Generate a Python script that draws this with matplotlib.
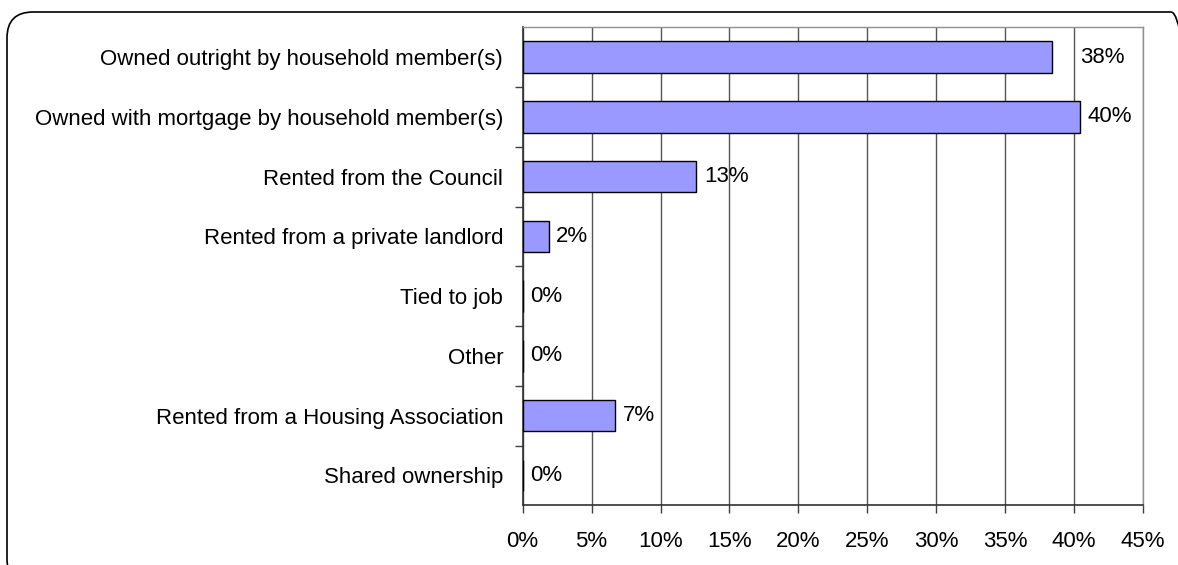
import matplotlib
matplotlib.use("Agg")
import matplotlib.pyplot as plt
from matplotlib.patches import FancyBboxPatch
from matplotlib.transforms import IdentityTransform

plt.rcParams["font.family"] = ["Liberation Sans", "DejaVu Sans"]

# tenure of the household's home (% of respondents)
categorias = ["Owned outright by household member(s)",
              "Owned with mortgage by household member(s)",
              "Rented from the Council",
              "Rented from a private landlord",
              "Tied to job",
              "Other",
              "Rented from a Housing Association",
              "Shared ownership"]
percentuais = [38.4, 40.4, 12.6, 1.9, 0.0, 0.0, 6.7, 0.0]
ticks_x = [0, 5, 10, 15, 20, 25, 30, 35, 40, 45]

fig = plt.figure(figsize=(11.78, 5.65), dpi=100)
ax = fig.add_axes([0.4437, 0.1057, 0.5266, 0.8460])

pos = list(range(len(categorias)))
ax.barh(pos, percentuais, height=0.53, color="#9999FF",
        edgecolor="black", linewidth=1.0, zorder=3)

# rótulos de valor na ponta das barras
deslocamento = {0: 28}
for i, v in enumerate(percentuais):
    ax.annotate(f"{v:.0f}%", xy=(v, i), xytext=(deslocamento.get(i, 7.5) * 0.72, 0),
                textcoords="offset points", va="center", ha="left",
                fontsize=16, zorder=4)

ax.set_xlim(0, 45)
ax.set_ylim(len(categorias) - 0.5, -0.5)
ax.set_xticks(ticks_x)
ax.set_xticklabels([f"{t}%" for t in ticks_x], fontsize=16)
ax.set_yticks(pos)
ax.set_yticklabels(categorias, fontsize=16)
ax.set_yticks([p + 0.5 for p in pos[:-1]], minor=True)

ax.tick_params(axis="y", which="major", length=0, pad=14)
ax.tick_params(axis="y", which="minor", length=5.5, width=1.0, color="#404040")
ax.tick_params(axis="x", length=5.5, width=1.0, color="#404040", pad=13)

ax.xaxis.grid(True, color="#555555", linewidth=1.0, zorder=0)
ax.set_axisbelow(True)
for lado in ["top", "right"]:
    ax.spines[lado].set_color("#909090")
    ax.spines[lado].set_linewidth(1.0)
for lado in ["left", "bottom"]:
    ax.spines[lado].set_color("#303030")
    ax.spines[lado].set_linewidth(1.2)

# moldura arredondada em volta do gráfico (em pixels)
moldura = FancyBboxPatch((7, -20), 1190, 573,
                         boxstyle="round,pad=0,rounding_size=26",
                         transform=IdentityTransform(), fill=False,
                         edgecolor="black", linewidth=1.2, clip_on=False)
fig.patches.append(moldura)

fig.savefig("out.png", dpi=100)
